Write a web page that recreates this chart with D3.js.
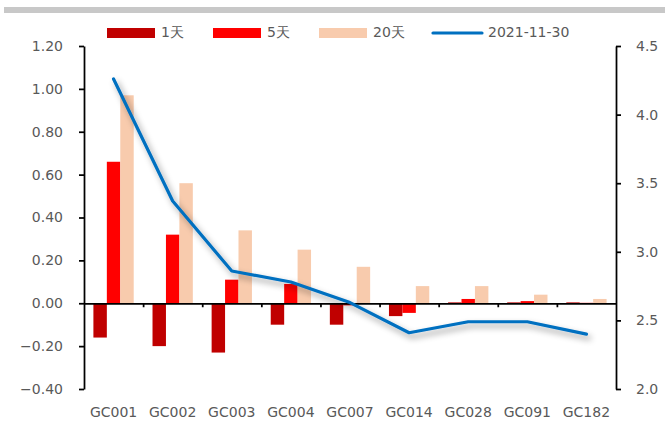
<!DOCTYPE html>
<html>
<head>
<meta charset="utf-8">
<script src="https://cdn.jsdelivr.net/npm/d3@7"></script>
<style>
  html, body { margin: 0; padding: 0; background: #fff; }
  svg { display: block; }
  text { font-family: "DejaVu Sans", sans-serif; fill: #595959; }
</style>
</head>
<body>
<svg id="chart" width="665" height="425"></svg>
<script>
// Repo rate changes by tenor (left axis) and the 2021-11-30 yield curve (right axis)
const categories = ["GC001", "GC002", "GC003", "GC004", "GC007", "GC014", "GC028", "GC091", "GC182"];
const seriesNames = ["1天", "5天", "20天"];
const change1d  = [-0.16, -0.20, -0.23, -0.10, -0.10, -0.06, 0.004, 0.004, 0.004];
const change5d  = [0.66, 0.32, 0.11, 0.09, -0.01, -0.045, 0.02, 0.01, 0.002];
const change20d = [0.97, 0.56, 0.34, 0.25, 0.17, 0.08, 0.08, 0.04, 0.02];
const lineName = "2021-11-30";
const rate20211130 = [4.26, 3.37, 2.86, 2.78, 2.63, 2.41, 2.49, 2.49, 2.40];
const leftTicks  = [-0.4, -0.2, 0, 0.2, 0.4, 0.6, 0.8, 1.0, 1.2];
const rightTicks = [2.0, 2.5, 3.0, 3.5, 4.0, 4.5];

const colors = { "1天": "#C00000", "5天": "#FF0000", "20天": "#F8CBAD" };
const lineColor = "#0070C0";

const svg = d3.select("#chart");
const plotLeft = 84, plotRight = 616, plotTop = 46, plotBottom = 389;

// top divider bar
svg.append("rect").attr("x", 4).attr("y", 7).attr("width", 661).attr("height", 6).attr("fill", "#C8C8C8");

const x = d3.scaleBand().domain(categories).range([plotLeft, plotRight]).padding(0);
const x1 = d3.scaleBand().domain(seriesNames).range([0, x.bandwidth()]).paddingInner(0).paddingOuter(0.7);
const y = d3.scaleLinear().domain([-0.4, 1.2]).range([plotBottom, plotTop]);
const y2 = d3.scaleLinear().domain([2.0, 4.5]).range([plotBottom, plotTop]);

const seriesData = { "1天": change1d, "5天": change5d, "20天": change20d };

const defs = svg.append("defs");
const f = defs.append("filter").attr("id", "lineShadow")
  .attr("x", "-10%").attr("y", "-10%").attr("width", "130%").attr("height", "130%");
f.append("feDropShadow").attr("dx", 3).attr("dy", 4).attr("stdDeviation", 3)
  .attr("flood-color", "#000").attr("flood-opacity", 0.4);

// bars
const barG = svg.append("g");
seriesNames.forEach(s => {
  barG.selectAll(null)
    .data(categories.map((c, i) => ({ c, v: seriesData[s][i] })))
    .join("rect")
    .attr("x", d => x(d.c) + x1(s))
    .attr("width", x1.bandwidth())
    .attr("y", d => y(Math.max(0, d.v)))
    .attr("height", d => Math.abs(y(d.v) - y(0)))
    .attr("fill", colors[s]);
});

// left axis
const axisL = svg.append("g").attr("transform", `translate(${plotLeft},0)`)
  .call(d3.axisLeft(y).tickValues(leftTicks).tickFormat(d3.format(".2f")).tickSize(5).tickSizeOuter(0).tickPadding(16));
// right axis
const axisR = svg.append("g").attr("transform", `translate(${plotRight},0)`)
  .call(d3.axisRight(y2).tickValues(rightTicks).tickFormat(d3.format(".1f")).tickSize(5).tickSizeOuter(0).tickPadding(15));
[axisL, axisR].forEach(a => {
  a.select(".domain").attr("stroke", "#000").attr("stroke-width", 1.75);
  a.selectAll(".tick line").attr("stroke", "#000").attr("stroke-width", 1.75);
  a.selectAll(".tick text").attr("fill", "#595959").style("font-size", "14px").style("font-family", "'DejaVu Sans', sans-serif");
});

// category axis along zero
const xBoundaries = d3.scaleLinear().domain([0, categories.length]).range([plotLeft, plotRight]);
const zeroAxis = svg.append("g").attr("transform", `translate(0,${y(0)})`)
  .call(d3.axisBottom(xBoundaries).tickValues(d3.range(1, categories.length)).tickSize(4).tickSizeOuter(0).tickFormat(""));
zeroAxis.select(".domain").attr("stroke", "#000").attr("stroke-width", 1.75);
zeroAxis.selectAll(".tick line").attr("stroke", "#000").attr("stroke-width", 1.75);

// category labels below the plot
svg.append("g").selectAll("text").data(categories).join("text")
  .attr("x", d => x(d) + x.bandwidth() / 2)
  .attr("y", 413)
  .attr("text-anchor", "middle")
  .attr("dominant-baseline", "middle")
  .style("font-size", "14px")
  .text(d => d);

// yield line
const line = d3.line()
  .x((d, i) => x(categories[i]) + x.bandwidth() / 2)
  .y(d => y2(d));
svg.append("path")
  .datum(rate20211130)
  .attr("d", line)
  .attr("fill", "none")
  .attr("stroke", lineColor)
  .attr("stroke-width", 3.2)
  .attr("stroke-linejoin", "round")
  .attr("stroke-linecap", "round")
  .attr("filter", "url(#lineShadow)");

// legend
const legend = svg.append("g");
const legendItems = [
  { name: "1天", x: 107, type: "rect" },
  { name: "5天", x: 213, type: "rect" },
  { name: "20天", x: 319, type: "rect" },
  { name: lineName, x: 433, type: "line" }
];
legendItems.forEach(it => {
  if (it.type === "rect") {
    legend.append("rect").attr("x", it.x).attr("y", 28).attr("width", 48).attr("height", 10)
      .attr("fill", colors[it.name]);
  } else {
    legend.append("line").attr("x1", it.x).attr("x2", it.x + 49).attr("y1", 33).attr("y2", 33)
      .attr("stroke", lineColor).attr("stroke-width", 3.2).attr("stroke-linecap", "round");
  }
  legend.append("text").attr("x", it.x + (it.type === "rect" ? 54 : 55)).attr("y", 33)
    .attr("dominant-baseline", "middle").style("font-size", "14px").text(it.name);
});
</script>
</body>
</html>
